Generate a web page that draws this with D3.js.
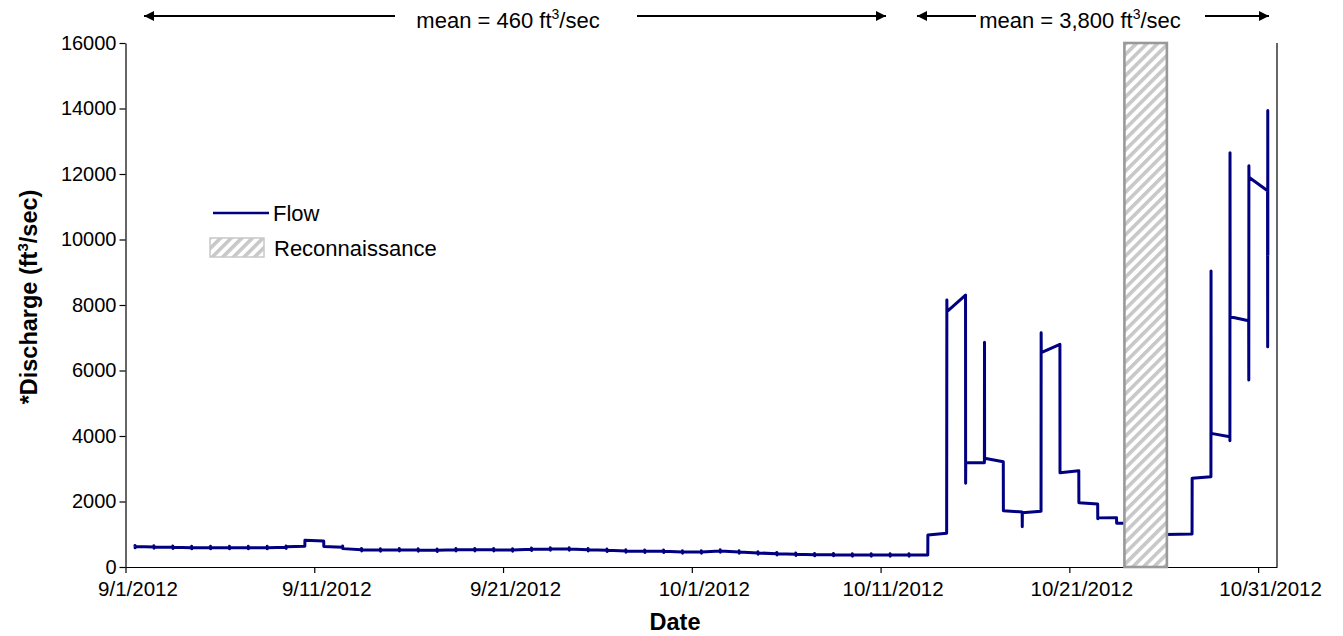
<!DOCTYPE html>
<html>
<head>
<meta charset="utf-8">
<script src="https://cdn.jsdelivr.net/npm/d3@7"></script>
<style>
  html, body { margin: 0; padding: 0; background: #fff; }
  svg { display: block; font-family: "Liberation Sans", Arial, sans-serif; }
</style>
</head>
<body>
<svg id="chart" width="1343" height="636"></svg>
<script>
// ---------------- DATA ----------------
const sampleTimes = [
  "2012-09-01T12:00","2012-09-02T12:00","2012-09-03T12:00","2012-09-04T12:00","2012-09-05T12:00",
  "2012-09-06T12:00","2012-09-07T12:00","2012-09-08T12:00","2012-09-09T12:00","2012-09-10T12:00",
  "2012-09-11T12:00","2012-09-12T12:00","2012-09-13T12:00","2012-09-14T12:00","2012-09-15T12:00",
  "2012-09-16T12:00","2012-09-17T12:00","2012-09-18T12:00","2012-09-19T12:00","2012-09-20T12:00",
  "2012-09-21T12:00","2012-09-22T12:00","2012-09-23T12:00","2012-09-24T12:00","2012-09-25T12:00",
  "2012-09-26T12:00","2012-09-27T12:00","2012-09-28T12:00","2012-09-29T12:00","2012-09-30T12:00",
  "2012-10-01T12:00","2012-10-02T12:00","2012-10-03T12:00","2012-10-04T12:00","2012-10-05T12:00",
  "2012-10-06T12:00","2012-10-07T12:00","2012-10-08T12:00","2012-10-09T12:00","2012-10-10T12:00",
  "2012-10-11T12:00","2012-10-12T12:00","2012-10-13T12:00","2012-10-14T12:00","2012-10-15T12:00",
  "2012-10-16T12:00","2012-10-17T12:00","2012-10-18T12:00","2012-10-19T12:00","2012-10-20T12:00",
  "2012-10-21T12:00","2012-10-22T12:00","2012-10-23T12:00","2012-10-24T04:00",
  "2012-10-26T02:00","2012-10-27T12:00","2012-10-28T12:00","2012-10-29T12:00","2012-10-30T12:00",
  "2012-10-31T12:00"
];
// readings (ft3/sec) taken in quick succession at each sampling time, in order
const dailyReadings = [
  [623,660,585,623],[612,650,575,612],[601,640,565,601],[591,630,555,591],[591,630,555,591],
  [591,630,555,591],[591,630,555,591],[591,630,555,591],[601,640,565,620],[633,815],
  [795,623],[602,640,561],[530,568,492,530],[520,558,482,520],[530,568,492,530],
  [520,558,482,520],[510,548,472,510],[530,568,492,530],[530,568,492,530],[530,568,492,530],
  [520,558,482,520],[541,578,503,541],[551,588,513,551],[551,588,513,551],[530,568,492,530],
  [510,548,472,510],[489,526,452,489],[479,516,442,479],[479,516,442,479],[458,496,420,458],
  [458,496,420,458],[489,526,452,489],[458,496,420,458],[428,466,390,428],[407,445,370,407],
  [387,425,350,387],[377,415,340,377],[377,415,340,377],[367,405,330,367],[367,405,330,367],
  [367,405,330,367],[367,405,330,367],[367,977],[1029,4700,8151,7795],[8305,2555,3185],
  [3185,6860,3318],[3215,1720],[1680,1231,1660],[1700,7153,6543],[6800,2879],
  [2940,1963],[1923,1470,1500],[1505,1334],[1334],
  [977,900,990],[1007,2707],[2758,9038,4080],[3980,3857,12650,7643],[7520,5710,12253,11898],
  [11490,6726,13936,9500]
];
const reconStart = "2012-10-23T22:00";
const reconEnd = "2012-10-26T04:00";
const xTickDates = ["2012-09-01","2012-09-11","2012-09-21","2012-10-01","2012-10-11","2012-10-21","2012-10-31"];
const yTicks = [0,2000,4000,6000,8000,10000,12000,14000,16000];
const meanLabels = ["mean = 460 ft", "mean = 3,800 ft"];

// ---------------- SETUP ----------------
const svg = d3.select("#chart");
const parse = d3.isoParse;
const X0 = 125.5, X1 = 1277, Y0 = 567, Y1 = 43;
const x = d3.scaleTime().domain([new Date(2012,8,1), new Date(2012,10,1)]).range([X0, X1]);
const y = d3.scaleLinear().domain([0,16000]).range([Y0, Y1]);

const defs = svg.append("defs");
const pat = defs.append("pattern").attr("id","hatch").attr("patternUnits","userSpaceOnUse")
  .attr("width",7.5).attr("height",7.5).attr("patternTransform","rotate(45)");
pat.append("rect").attr("width",7.5).attr("height",7.5).attr("fill","#fff");
pat.append("rect").attr("x",0).attr("y",0).attr("width",3.6).attr("height",7.5).attr("fill","#c8c8c8");

// build points
const pts = [];
sampleTimes.forEach((t,i) => {
  const base = parse(t);
  dailyReadings[i].forEach((v,j) => {
    pts.push({ t: new Date(base.getTime() + j*8*60000), v });
  });
});

// ---------------- AXES ----------------
const xAxis = d3.axisBottom(x).tickValues(xTickDates.map(d => parse(d + "T00:00")))
  .tickFormat(d3.timeFormat("%-m/%-d/%Y")).tickSize(6).tickSizeOuter(0);
const gx = svg.append("g").attr("transform",`translate(0,${Y0})`).call(xAxis);
gx.select(".domain").attr("stroke","#000").attr("stroke-width",1.2);
gx.selectAll(".tick line").attr("stroke","#000").attr("stroke-width",1.2);
gx.selectAll(".tick text").attr("font-size",20.5).attr("fill","#000")
  .attr("font-family","Liberation Sans, Arial, sans-serif").attr("dx",12).attr("y",14).attr("dy","0.71em");

const yAxis = d3.axisLeft(y).tickValues(yTicks).tickFormat(d3.format("d")).tickSize(6).tickSizeOuter(0);
const gy = svg.append("g").attr("transform",`translate(${X0},0)`).call(yAxis);
gy.select(".domain").attr("stroke","#000").attr("stroke-width",1.2);
gy.selectAll(".tick line").attr("stroke","#000").attr("stroke-width",1.2);
gy.selectAll(".tick text").attr("font-size",20).attr("fill","#000")
  .attr("font-family","Liberation Sans, Arial, sans-serif").attr("x",-9);

// right border
svg.append("line").attr("x1",X1).attr("x2",X1).attr("y1",Y1).attr("y2",Y0)
  .attr("stroke","#000").attr("stroke-width",1.2);

// ---------------- FLOW LINE ----------------
const line = d3.line().x(d => x(d.t)).y(d => y(d.v));
svg.append("path").datum(pts).attr("d", line).attr("fill","none")
  .attr("stroke","#000080").attr("stroke-width",3).attr("stroke-linejoin","round");

// ---------------- RECONNAISSANCE BAND ----------------
const rx0 = x(parse(reconStart)), rx1 = x(parse(reconEnd));
svg.append("rect").attr("x",rx0).attr("y",Y1).attr("width",rx1-rx0).attr("height",Y0-Y1)
  .attr("fill","url(#hatch)").attr("stroke","#999").attr("stroke-width",2.6);

// ---------------- LEGEND ----------------
svg.append("line").attr("x1",213).attr("x2",269).attr("y1",213).attr("y2",213)
  .attr("stroke","#000080").attr("stroke-width",2.4);
svg.append("text").attr("x",273).attr("y",221).attr("font-size",22).text("Flow");
svg.append("rect").attr("x",210).attr("y",238).attr("width",54).attr("height",19)
  .attr("fill","url(#hatch)").attr("stroke","#c8c8c8").attr("stroke-width",1.5);
svg.append("text").attr("x",274).attr("y",256).attr("font-size",22).text("Reconnaissance");

// ---------------- AXIS TITLES ----------------
const yt = svg.append("text").attr("transform","translate(37,297) rotate(-90)")
  .attr("text-anchor","middle").attr("font-size",23.5).attr("font-weight","bold");
yt.append("tspan").text("*Discharge (ft");
yt.append("tspan").attr("font-size",15).attr("dy",-9).text("3");
yt.append("tspan").attr("dy",9).text("/sec)");
svg.append("text").attr("x",675).attr("y",630).attr("text-anchor","middle")
  .attr("font-size",23.5).attr("font-weight","bold").text("Date");

// ---------------- MEAN ANNOTATIONS ----------------
defs.append("marker").attr("id","arrow").attr("viewBox","0 0 10 10").attr("refX",10).attr("refY",5)
  .attr("markerWidth",14).attr("markerHeight",10).attr("markerUnits","userSpaceOnUse")
  .attr("orient","auto").append("path").attr("d","M0,0 L10,5 L0,10 Z").attr("fill","#000");

function arrow(xa, xb) {
  svg.append("line").attr("x1",xa).attr("x2",xb).attr("y1",16).attr("y2",16)
    .attr("stroke","#000").attr("stroke-width",1.8).attr("marker-end","url(#arrow)");
}
arrow(395,144); arrow(637,886);
arrow(976,917); arrow(1205,1269);

function meanText(cx, label) {
  const t = svg.append("text").attr("x",cx).attr("y",28).attr("text-anchor","middle").attr("font-size",22);
  t.append("tspan").text(label);
  t.append("tspan").attr("font-size",14).attr("dy",-9).text("3");
  t.append("tspan").attr("dy",9).text("/sec");
}
meanText(508, meanLabels[0]);
meanText(1080, meanLabels[1]);
</script>
</body>
</html>
